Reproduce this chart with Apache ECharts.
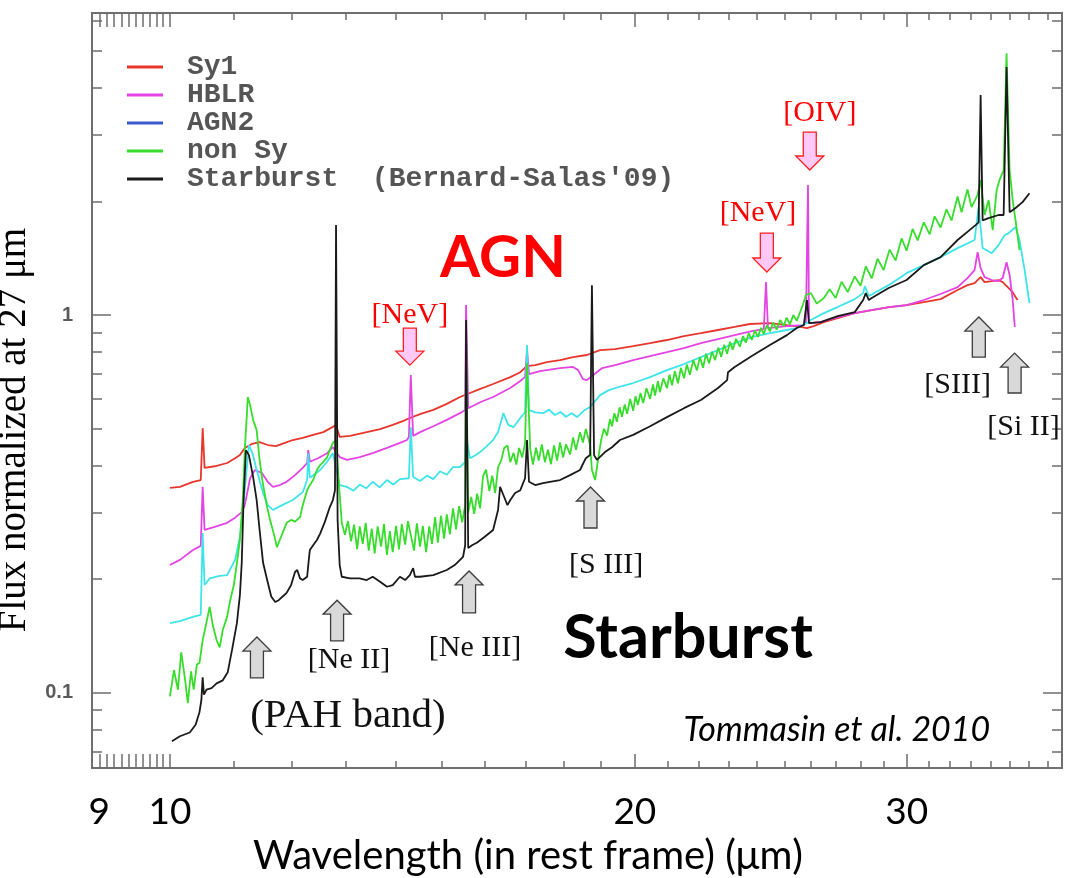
<!DOCTYPE html>
<html>
<head>
<meta charset="utf-8">
<script src="https://cdn.jsdelivr.net/npm/echarts@6/dist/echarts.min.js"></script>
<style>
html,body{margin:0;padding:0;background:#ffffff;}
#chart{width:1066px;height:878px;}
</style>
</head>
<body>
<div id="chart"></div>
<script>
// ---------------- DATA (wavelength in micron, flux normalized at 27 micron) ----------------
const sy1 = [[10.00,0.349],[10.15,0.351],[10.35,0.362],[10.47,0.366],[10.50,0.502],[10.53,0.394],[10.69,0.398],[10.89,0.406],[11.02,0.418],[11.10,0.426],[11.18,0.445],[11.30,0.456],[11.43,0.461],[11.57,0.453],[11.71,0.450],[11.87,0.459],[12.01,0.467],[12.19,0.473],[12.38,0.482],[12.57,0.490],[12.75,0.506],[12.81,0.512],[12.88,0.476],[13.08,0.479],[13.41,0.490],[13.68,0.499],[13.94,0.512],[14.15,0.524],[14.30,0.534],[14.52,0.547],[14.81,0.561],[15.11,0.582],[15.41,0.607],[15.64,0.622],[15.81,0.633],[16.19,0.657],[16.61,0.685],[16.86,0.706],[17.03,0.733],[17.24,0.737],[17.54,0.751],[17.89,0.760],[18.24,0.774],[18.62,0.784],[18.99,0.808],[19.42,0.813],[19.95,0.828],[20.46,0.843],[20.98,0.859],[21.52,0.880],[22.07,0.896],[22.64,0.913],[23.21,0.930],[23.74,0.947],[24.46,0.952],[25.09,0.941],[25.46,0.935],[25.85,0.924],[26.11,0.935],[26.51,0.958],[27.06,0.982],[27.76,1.012],[28.47,1.031],[29.24,1.050],[29.99,1.063],[30.77,1.082],[31.55,1.102],[32.36,1.165],[32.84,1.200],[33.19,1.215],[33.49,1.260],[33.69,1.222],[34.05,1.230],[34.40,1.238],[34.61,1.222],[34.92,1.179],[35.13,1.150],[35.28,1.116],[35.39,1.096]];

const hblr = [[10.00,0.218],[10.15,0.225],[10.35,0.239],[10.47,0.245],[10.50,0.351],[10.53,0.270],[10.69,0.275],[10.89,0.282],[11.02,0.291],[11.13,0.301],[11.18,0.314],[11.27,0.370],[11.35,0.389],[11.47,0.382],[11.57,0.362],[11.66,0.351],[11.78,0.355],[11.90,0.362],[12.05,0.377],[12.19,0.394],[12.27,0.406],[12.29,0.439],[12.32,0.409],[12.47,0.418],[12.64,0.431],[12.75,0.447],[12.88,0.421],[13.02,0.414],[13.27,0.421],[13.53,0.431],[13.82,0.445],[14.09,0.459],[14.24,0.467],[14.28,0.476],[14.32,0.694],[14.37,0.479],[14.52,0.490],[14.81,0.508],[15.11,0.528],[15.41,0.550],[15.53,0.561],[15.55,1.063],[15.60,0.567],[15.88,0.588],[16.19,0.607],[16.61,0.641],[16.86,0.669],[16.98,0.685],[17.03,0.808],[17.08,0.698],[17.36,0.711],[17.89,0.724],[18.24,0.729],[18.38,0.715],[18.51,0.677],[18.62,0.673],[19.05,0.724],[19.42,0.737],[19.95,0.760],[20.46,0.779],[20.98,0.798],[21.52,0.818],[22.07,0.843],[22.64,0.864],[23.21,0.885],[23.81,0.907],[24.24,0.918],[24.32,1.223],[24.39,0.924],[25.09,0.935],[25.73,0.941],[25.81,0.958],[25.89,2.21],[25.93,0.952],[26.39,0.958],[27.06,0.988],[27.76,1.012],[28.47,1.031],[29.20,1.050],[29.99,1.063],[30.77,1.096],[31.55,1.137],[32.36,1.186],[32.84,1.253],[33.19,1.315],[33.34,1.468],[33.49,1.331],[33.69,1.260],[34.05,1.238],[34.40,1.230],[34.61,1.253],[34.81,1.380],[34.97,1.276],[35.13,1.096],[35.24,0.930]];

const agn2 = [[10.00,0.153],[10.15,0.155],[10.35,0.159],[10.47,0.161],[10.50,0.265],[10.53,0.193],[10.61,0.201],[10.77,0.204],[10.89,0.205],[11.02,0.225],[11.10,0.259],[11.18,0.344],[11.25,0.453],[11.32,0.426],[11.38,0.389],[11.49,0.338],[11.57,0.314],[11.66,0.305],[11.82,0.314],[12.01,0.324],[12.19,0.340],[12.27,0.366],[12.29,0.431],[12.32,0.371],[12.51,0.389],[12.64,0.409],[12.75,0.431],[12.88,0.355],[13.02,0.351],[13.15,0.343],[13.27,0.356],[13.40,0.348],[13.53,0.362],[13.67,0.350],[13.82,0.366],[13.95,0.356],[14.09,0.368],[14.28,0.370],[14.32,0.505],[14.37,0.373],[14.52,0.364],[14.67,0.376],[14.81,0.368],[14.96,0.386],[15.11,0.378],[15.25,0.396],[15.41,0.396],[15.53,0.409],[15.55,0.482],[15.64,0.418],[15.76,0.425],[15.88,0.434],[16.02,0.448],[16.19,0.467],[16.31,0.490],[16.44,0.550],[16.56,0.512],[16.69,0.505],[16.86,0.534],[16.98,0.553],[17.03,0.833],[17.08,0.561],[17.24,0.553],[17.44,0.550],[17.60,0.562],[17.75,0.544],[17.90,0.554],[18.05,0.538],[18.20,0.550],[18.35,0.537],[18.56,0.561],[18.71,0.571],[18.99,0.614],[19.24,0.633],[19.62,0.649],[19.95,0.661],[20.46,0.685],[20.98,0.715],[21.52,0.742],[22.07,0.774],[22.64,0.808],[23.21,0.843],[23.81,0.874],[24.46,0.896],[25.09,0.913],[25.46,0.924],[25.85,0.952],[26.00,0.970],[26.51,1.012],[27.06,1.050],[27.76,1.102],[28.11,1.143],[28.18,1.193],[28.35,1.123],[29.20,1.200],[29.99,1.291],[30.77,1.356],[31.55,1.423],[32.36,1.504],[33.19,1.580],[33.39,1.930],[33.59,1.504],[34.05,1.458],[34.40,1.532],[34.71,1.627],[34.92,1.648],[35.28,1.710],[35.49,1.580],[35.76,1.315],[36.02,1.076]];

const nonSy = [[10.00,0.098],[10.06,0.115],[10.12,0.102],[10.17,0.128],[10.23,0.108],[10.27,0.094],[10.32,0.114],[10.36,0.102],[10.41,0.119],[10.45,0.120],[10.50,0.138],[10.55,0.151],[10.61,0.169],[10.66,0.151],[10.72,0.138],[10.77,0.132],[10.82,0.147],[10.89,0.159],[10.94,0.176],[11.00,0.193],[11.05,0.221],[11.10,0.254],[11.15,0.330],[11.18,0.439],[11.22,0.561],[11.23,0.607],[11.27,0.578],[11.32,0.528],[11.38,0.496],[11.43,0.414],[11.49,0.355],[11.56,0.310],[11.61,0.287],[11.68,0.262],[11.73,0.243],[11.78,0.254],[11.85,0.270],[11.90,0.282],[11.98,0.287],[12.05,0.284],[12.14,0.292],[12.19,0.314],[12.27,0.344],[12.32,0.355],[12.38,0.366],[12.45,0.389],[12.51,0.401],[12.57,0.409],[12.64,0.420],[12.69,0.439],[12.75,0.459],[12.81,0.467],[12.86,0.366],[12.92,0.282],[12.98,0.262],[13.04,0.285],[13.10,0.252],[13.16,0.279],[13.22,0.240],[13.27,0.276],[13.33,0.248],[13.39,0.282],[13.45,0.238],[13.51,0.272],[13.57,0.234],[13.63,0.276],[13.70,0.244],[13.76,0.280],[13.82,0.232],[13.88,0.268],[13.94,0.236],[14.01,0.277],[14.07,0.240],[14.13,0.280],[14.20,0.247],[14.26,0.285],[14.32,0.262],[14.39,0.238],[14.45,0.281],[14.52,0.244],[14.58,0.277],[14.65,0.236],[14.72,0.276],[14.78,0.248],[14.85,0.292],[14.91,0.250],[14.98,0.294],[15.05,0.256],[15.11,0.297],[15.18,0.263],[15.25,0.308],[15.32,0.271],[15.39,0.312],[15.46,0.283],[15.53,0.314],[15.55,0.913],[15.60,0.300],[15.67,0.330],[15.74,0.298],[15.81,0.337],[15.88,0.308],[15.95,0.375],[16.02,0.390],[16.10,0.342],[16.17,0.376],[16.24,0.338],[16.31,0.395],[16.39,0.414],[16.46,0.445],[16.54,0.452],[16.61,0.408],[16.69,0.432],[16.76,0.402],[16.83,0.445],[16.91,0.420],[16.98,0.458],[17.03,0.746],[17.11,0.444],[17.18,0.402],[17.26,0.446],[17.33,0.412],[17.41,0.455],[17.49,0.408],[17.57,0.440],[17.65,0.403],[17.73,0.452],[17.81,0.412],[17.89,0.460],[17.97,0.420],[18.05,0.455],[18.16,0.428],[18.24,0.474],[18.32,0.440],[18.43,0.490],[18.51,0.460],[18.59,0.500],[18.71,0.453],[18.76,0.389],[18.85,0.366],[18.93,0.414],[19.02,0.467],[19.10,0.500],[19.19,0.480],[19.27,0.530],[19.33,0.508],[19.40,0.550],[19.47,0.522],[19.55,0.570],[19.62,0.538],[19.70,0.580],[19.77,0.548],[19.86,0.600],[19.95,0.558],[20.02,0.610],[20.09,0.578],[20.17,0.622],[20.25,0.585],[20.35,0.640],[20.46,0.600],[20.55,0.655],[20.61,0.612],[20.70,0.668],[20.76,0.625],[20.87,0.680],[20.98,0.640],[21.06,0.695],[21.14,0.652],[21.23,0.710],[21.33,0.660],[21.42,0.725],[21.52,0.680],[21.61,0.740],[21.71,0.695],[21.82,0.760],[21.94,0.714],[22.04,0.775],[22.14,0.725],[22.24,0.790],[22.34,0.745],[22.44,0.800],[22.54,0.760],[22.65,0.820],[22.75,0.775],[22.85,0.835],[22.95,0.790],[23.05,0.850],[23.14,0.810],[23.26,0.865],[23.39,0.825],[23.50,0.880],[23.60,0.845],[23.70,0.895],[23.81,0.860],[23.92,0.910],[24.03,0.875],[24.14,0.925],[24.24,0.890],[24.35,0.940],[24.46,0.905],[24.58,0.955],[24.71,0.915],[24.84,0.970],[24.97,0.935],[25.08,0.985],[25.20,0.945],[25.33,1.000],[25.46,0.965],[25.69,1.063],[25.81,1.130],[26.00,1.143],[26.23,1.072],[26.51,1.110],[26.74,1.170],[26.98,1.110],[27.22,1.225],[27.47,1.150],[27.76,1.265],[28.00,1.195],[28.22,1.345],[28.47,1.250],[28.72,1.410],[28.98,1.315],[29.24,1.490],[29.50,1.395],[29.77,1.595],[29.99,1.480],[30.26,1.690],[30.49,1.575],[30.77,1.760],[31.04,1.635],[31.27,1.825],[31.55,1.705],[31.83,1.905],[32.07,1.780],[32.36,2.060],[32.55,1.870],[32.84,2.150],[33.04,1.930],[33.34,2.080],[33.49,2.280],[33.69,1.840],[33.89,2.015],[34.10,1.678],[34.30,2.140],[34.45,2.280],[34.66,2.420],[34.81,4.930],[34.97,2.420],[35.13,2.015],[35.28,1.780],[35.49,1.485]];

const starburst = [[10.03,0.0745],[10.15,0.0768],[10.30,0.0786],[10.39,0.0824],[10.45,0.0889],[10.48,0.0958],[10.50,0.110],[10.52,0.099],[10.56,0.102],[10.64,0.103],[10.72,0.106],[10.82,0.108],[10.90,0.1135],[10.97,0.130],[11.05,0.153],[11.10,0.182],[11.13,0.221],[11.16,0.324],[11.20,0.439],[11.25,0.426],[11.32,0.373],[11.38,0.324],[11.43,0.270],[11.49,0.221],[11.56,0.199],[11.63,0.180],[11.70,0.174],[11.76,0.176],[11.83,0.180],[11.90,0.184],[11.98,0.193],[12.05,0.209],[12.09,0.2115],[12.14,0.201],[12.19,0.199],[12.27,0.203],[12.30,0.225],[12.32,0.239],[12.38,0.246],[12.45,0.254],[12.51,0.264],[12.60,0.284],[12.69,0.310],[12.75,0.324],[12.79,0.344],[12.81,1.73],[12.84,0.287],[12.88,0.218],[12.92,0.203],[13.08,0.201],[13.27,0.201],[13.41,0.199],[13.53,0.203],[13.68,0.197],[13.82,0.191],[13.94,0.193],[14.09,0.203],[14.20,0.199],[14.30,0.205],[14.37,0.214],[14.41,0.203],[14.52,0.203],[14.81,0.205],[15.11,0.2115],[15.29,0.218],[15.48,0.229],[15.53,0.246],[15.55,0.97],[15.60,0.242],[15.69,0.246],[15.81,0.250],[15.99,0.259],[16.19,0.270],[16.31,0.305],[16.36,0.351],[16.44,0.334],[16.54,0.314],[16.61,0.324],[16.73,0.338],[16.86,0.344],[16.98,0.370],[17.03,0.467],[17.08,0.362],[17.24,0.355],[17.44,0.359],[17.62,0.362],[17.89,0.366],[18.16,0.377],[18.43,0.389],[18.59,0.418],[18.71,0.426],[18.76,1.20],[18.82,0.426],[18.90,0.414],[19.13,0.434],[19.33,0.447],[19.56,0.467],[19.95,0.482],[20.46,0.508],[20.98,0.537],[21.52,0.567],[22.07,0.596],[22.64,0.641],[22.95,0.673],[22.98,0.706],[23.21,0.729],[23.81,0.779],[24.46,0.833],[25.09,0.885],[25.46,0.924],[25.73,0.941],[25.85,1.096],[25.93,0.952],[26.39,0.958],[27.06,0.994],[27.76,1.018],[28.11,1.096],[28.22,1.143],[28.35,1.096],[28.47,1.109],[29.20,1.179],[29.99,1.238],[30.77,1.356],[31.55,1.423],[32.36,1.580],[32.94,1.678],[33.24,1.730],[33.39,1.760],[33.49,3.82],[33.59,1.780],[33.89,1.806],[34.40,1.840],[34.66,1.840],[34.81,4.53],[34.97,1.870],[35.28,1.920],[35.65,1.990],[36.02,2.100]];

// axis ranges and ticks
const X_MIN = 8.903, X_MAX = 37.81;
const Y_MIN = 0.0633, Y_MAX = 6.30;
const xTickLabels = [9, 10, 20, 30];
const xMajorTicks = [9.0, 9.1, 9.2, 9.3, 9.4, 9.5, 9.6, 9.7, 9.8, 9.9, 10, 20, 30];
const xMinorTicks = [11, 12, 13, 14, 15, 16, 17, 18, 19, 21, 22, 23, 24, 25, 26, 27, 28, 29, 31, 32, 33, 34, 35, 36, 37];
const yTickLabels = [0.1, 1];
const yMajorTicks = [0.1, 1];
const yMinorTicks = [0.07, 0.08, 0.09, 0.2, 0.3, 0.4, 0.5, 0.6, 0.7, 0.8, 0.9, 2, 3, 4, 5, 6];

// annotations: arrows [wavelength, tip flux, tail flux]
const agnLineArrows = [[14.30, 0.737, 0.924], [24.35, 1.30, 1.648], [25.96, 2.42, 3.05]];
const sfLineArrows = [[11.385, 0.1406, 0.1096], [12.83, 0.176, 0.1373], [15.62, 0.2103, 0.1628], [18.72, 0.3508, 0.2732], [33.40, 0.988, 0.774], [35.23, 0.793, 0.622]];
// labels [text, wavelength, flux]
const agnLineLabels = [['[NeV]', 14.30, 1.0], ['[NeV]', 24.03, 1.856], ['[OIV]', 26.35, 3.42]];
const sfLineLabels = [['[Ne II]', 13.06, 0.1223], ['[Ne III]', 15.76, 0.1315], ['[S III]', 19.16, 0.218], ['[SIII]', 32.36, 0.653], ['[Si II]', 35.70, 0.5055]];
const bandLabels = [['(PAH band)', 13.04, 0.0869]];
const agnTitle = [['AGN', 16.43, 1.415]];
const sbTitle = [['Starburst', 21.65, 0.1398]];
const creditText = [['Tommasin et al. 2010', 27.03, 0.0798]];

// ---------------- CHART ----------------
const lg = Math.log10;
const TICK_COLOR = '#6e6e6e';
const fmtPow = v => String(parseFloat(Math.pow(10, v).toPrecision(2)));

function tickAxis(dim, position, ticks, len, extra) {
  const isX = dim === 'x';
  const base = {
    type: 'value', position: position,
    min: isX ? lg(X_MIN) : lg(Y_MIN), max: isX ? lg(X_MAX) : lg(Y_MAX),
    axisLine: { show: false, onZero: false },
    splitLine: { show: false },
    axisTick: { show: true, inside: true, length: len, customValues: ticks.map(lg), lineStyle: { color: TICK_COLOR, width: 1.5 } },
    axisLabel: { show: false }
  };
  return Object.assign(base, extra || {});
}

function arrowSeries(items, down) {
  return {
    type: 'custom', silent: true, clip: false, z: 10, xAxisIndex: 0, yAxisIndex: 0,
    data: items, encode: { x: 0, y: [1, 2] },
    renderItem: function (params, api) {
      const tip = api.coord([api.value(0), api.value(1)]);
      const tail = api.coord([api.value(0), api.value(2)]);
      const s = tail[1] < tip[1] ? 1 : -1;
      const x = tip[0], ty = tip[1], neck = ty - s * 14, hw = 6.5, hh = 14;
      return {
        type: 'polygon',
        shape: { points: [[x - hw, tail[1]], [x + hw, tail[1]], [x + hw, neck], [x + hh, neck], [x, ty], [x - hh, neck], [x - hw, neck]] },
        style: down ? { fill: '#ffc8f6', stroke: '#ff2020', lineWidth: 1.3 } : { fill: '#d9d9d9', stroke: '#3c3c3c', lineWidth: 1.3 }
      };
    }
  };
}

function textSeries(items, style) {
  return {
    type: 'custom', silent: true, clip: false, z: 11, xAxisIndex: 0, yAxisIndex: 0,
    data: items.map(d => [d[1], d[2]]), encode: { x: 0, y: 1 },
    renderItem: function (params, api) {
      const p = api.coord([api.value(0), api.value(1)]);
      return {
        type: 'text', x: p[0], y: p[1],
        style: Object.assign({ text: items[params.dataIndex][0], align: 'center', verticalAlign: 'middle' }, style)
      };
    }
  };
}

const lineSeries = (name, data, color) => ({
  type: 'line', name: name, data: data, xAxisIndex: 0, yAxisIndex: 0,
  symbol: 'none', color: color, lineStyle: { color: color, width: 1.8 },
  emphasis: { disabled: true }, silent: true
});

const SB_NAME = "Starburst  (Bernard-Salas'09)";

const option = {
  animation: false,
  backgroundColor: '#ffffff',
  grid: { left: 92, right: 4, top: 13, bottom: 110, show: true, borderColor: '#707070', borderWidth: 2, containLabel: false, outerBoundsMode: 'none' },
  legend: {
    orient: 'vertical', left: 122, top: 48, itemWidth: 36, itemHeight: 3, itemGap: 0, icon: 'rect',
    selectedMode: false,
    textStyle: { fontFamily: 'Liberation Mono', fontWeight: 'bold', fontSize: 28, color: '#555555', lineHeight: 27.5, padding: [0, 0, 0, 19] },
    data: [{ name: 'Sy1' }, { name: 'HBLR' }, { name: 'AGN2', itemStyle: { color: '#3a58cc' } }, { name: 'non Sy' }, { name: SB_NAME }]
  },
  xAxis: [
    { type: 'log', logBase: 10, position: 'bottom', min: X_MIN, max: X_MAX, axisLine: { show: false, onZero: false }, axisTick: { show: false }, axisLabel: { show: false }, splitLine: { show: false } },
    tickAxis('x', 'bottom', xMinorTicks, 7, {
      axisLabel: { show: true, customValues: xTickLabels.map(lg), formatter: fmtPow, fontFamily: 'Lato', fontSize: 37, color: '#000000', margin: 26 },
      name: 'Wavelength (in rest frame) (\u03bcm)', nameLocation: 'middle', nameGap: 67,
      nameTextStyle: { fontFamily: 'Lato', fontSize: 40, color: '#000000', padding: [0, 98, 0, 0] }
    }),
    tickAxis('x', 'bottom', xMajorTicks, 14),
    tickAxis('x', 'top', xMinorTicks, 7),
    tickAxis('x', 'top', xMajorTicks, 14)
  ],
  yAxis: [
    { type: 'log', logBase: 10, position: 'left', min: Y_MIN, max: Y_MAX, axisLine: { show: false, onZero: false }, axisTick: { show: false }, axisLabel: { show: false }, splitLine: { show: false } },
    tickAxis('y', 'left', yMinorTicks, 10, {
      axisLabel: { show: true, customValues: yTickLabels.map(lg), formatter: fmtPow, fontFamily: 'Liberation Sans', fontWeight: 'bold', fontSize: 20, color: '#5a5a5a', margin: 19 },
      name: 'Flux normalized at 27 \u03bcm', nameLocation: 'middle', nameGap: 45, nameRotate: 90,
      nameTextStyle: { fontFamily: 'Liberation Serif', fontSize: 39, color: '#000000', padding: [0, 79, 0, 0] }
    }),
    tickAxis('y', 'left', yMajorTicks, 19),
    tickAxis('y', 'right', yMinorTicks, 10),
    tickAxis('y', 'right', yMajorTicks, 19)
  ],
  series: [
    lineSeries('Sy1', sy1, '#e8362c'),
    lineSeries('HBLR', hblr, '#e444e4'),
    lineSeries('AGN2', agn2, '#3ee4e8'),
    lineSeries('non Sy', nonSy, '#38dc2c'),
    lineSeries(SB_NAME, starburst, '#1a1a1a'),
    arrowSeries(agnLineArrows, true),
    arrowSeries(sfLineArrows, false),
    textSeries(agnLineLabels, { fill: '#ff0000', fontFamily: 'Liberation Serif', fontSize: 30 }),
    textSeries(sfLineLabels, { fill: '#111111', fontFamily: 'Liberation Serif', fontSize: 30 }),
    textSeries(bandLabels, { fill: '#111111', fontFamily: 'Liberation Serif', fontSize: 41 }),
    textSeries(agnTitle, { fill: '#ff0000', fontFamily: 'Lato', fontWeight: 'bold', fontSize: 58 }),
    textSeries(sbTitle, { fill: '#000000', fontFamily: 'Lato', fontWeight: 'bold', fontSize: 61 }),
    textSeries(creditText, { fill: '#000000', fontFamily: 'Lato', fontStyle: 'italic', fontSize: 34 })
  ]
};

const chart = echarts.init(document.getElementById('chart'), null, { renderer: 'canvas' });
chart.setOption(option);
</script>
</body>
</html>
